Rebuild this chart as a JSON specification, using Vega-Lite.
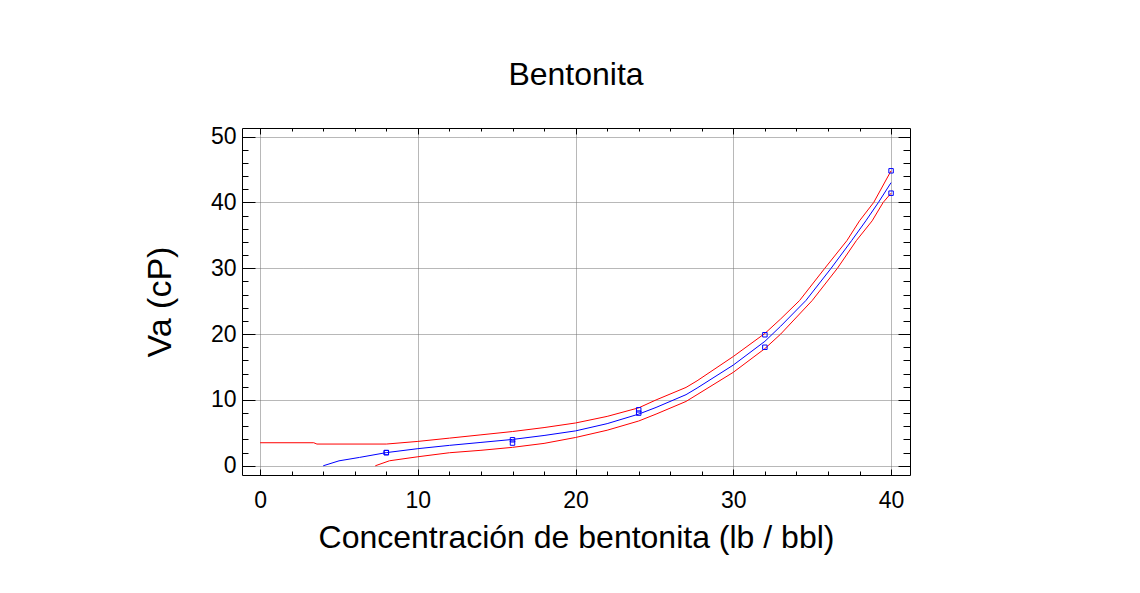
{
  "$schema": "https://vega.github.io/schema/vega-lite/v6.json",
  "autosize": "none",
  "width": 668,
  "height": 347,
  "padding": {"left": 242, "top": 128, "right": 230, "bottom": 118},
  "background": "white",
  "title": {"text": "Bentonita", "fontSize": 32, "font": "Liberation Sans", "fontWeight": "normal", "color": "black", "anchor": "middle", "frame": "group", "offset": 34},
  "config": {"view": {"stroke": null}, "font": "Liberation Sans"},
  "datasets": {
    "curves": [
      {"s": "upper", "x": 0, "y": 3.5}, {"s": "upper", "x": 3.4, "y": 3.5}, {"s": "upper", "x": 3.6, "y": 3.3}, {"s": "upper", "x": 8.0, "y": 3.3},
      {"s": "upper", "x": 10.0, "y": 3.7}, {"s": "upper", "x": 12.0, "y": 4.2}, {"s": "upper", "x": 14.0, "y": 4.7}, {"s": "upper", "x": 16.0, "y": 5.2},
      {"s": "upper", "x": 18.0, "y": 5.8}, {"s": "upper", "x": 20.0, "y": 6.5}, {"s": "upper", "x": 22.0, "y": 7.5}, {"s": "upper", "x": 24.0, "y": 8.8},
      {"s": "upper", "x": 25.1, "y": 10.0}, {"s": "upper", "x": 27.0, "y": 11.9}, {"s": "upper", "x": 27.7, "y": 12.9}, {"s": "upper", "x": 30.0, "y": 16.6},
      {"s": "upper", "x": 32.0, "y": 20.1}, {"s": "upper", "x": 33.0, "y": 22.3}, {"s": "upper", "x": 34.2, "y": 25.1}, {"s": "upper", "x": 35.8, "y": 30.0},
      {"s": "upper", "x": 37.2, "y": 34.2}, {"s": "upper", "x": 38.0, "y": 37.2}, {"s": "upper", "x": 38.9, "y": 40.0}, {"s": "upper", "x": 40.0, "y": 44.8},
      {"s": "lower", "x": 7.3, "y": 0.0}, {"s": "lower", "x": 8.2, "y": 0.76}, {"s": "lower", "x": 10.0, "y": 1.37}, {"s": "lower", "x": 12.0, "y": 1.98},
      {"s": "lower", "x": 14.0, "y": 2.35}, {"s": "lower", "x": 16.0, "y": 2.8}, {"s": "lower", "x": 18.0, "y": 3.4}, {"s": "lower", "x": 20.0, "y": 4.3},
      {"s": "lower", "x": 22.0, "y": 5.4}, {"s": "lower", "x": 24.0, "y": 6.8}, {"s": "lower", "x": 25.1, "y": 7.85}, {"s": "lower", "x": 27.0, "y": 9.77},
      {"s": "lower", "x": 27.7, "y": 10.8}, {"s": "lower", "x": 30.0, "y": 14.2}, {"s": "lower", "x": 32.0, "y": 17.8}, {"s": "lower", "x": 33.0, "y": 20.0},
      {"s": "lower", "x": 35.0, "y": 25.1}, {"s": "lower", "x": 36.6, "y": 30.0}, {"s": "lower", "x": 37.8, "y": 34.2}, {"s": "lower", "x": 38.8, "y": 37.2},
      {"s": "lower", "x": 39.5, "y": 40.0}, {"s": "lower", "x": 40.0, "y": 41.4},
      {"s": "fit", "x": 4.0, "y": 0.0}, {"s": "fit", "x": 5.0, "y": 0.75}, {"s": "fit", "x": 6.3, "y": 1.27}, {"s": "fit", "x": 8.0, "y": 2.0},
      {"s": "fit", "x": 10.0, "y": 2.6}, {"s": "fit", "x": 12.0, "y": 3.1}, {"s": "fit", "x": 14.0, "y": 3.55}, {"s": "fit", "x": 16.0, "y": 4.0},
      {"s": "fit", "x": 18.0, "y": 4.6}, {"s": "fit", "x": 20.0, "y": 5.3}, {"s": "fit", "x": 22.0, "y": 6.4}, {"s": "fit", "x": 24.0, "y": 7.85},
      {"s": "fit", "x": 25.1, "y": 8.86}, {"s": "fit", "x": 27.0, "y": 10.8}, {"s": "fit", "x": 27.7, "y": 11.8}, {"s": "fit", "x": 30.0, "y": 15.3},
      {"s": "fit", "x": 32.0, "y": 18.9}, {"s": "fit", "x": 33.0, "y": 21.2}, {"s": "fit", "x": 34.6, "y": 25.1}, {"s": "fit", "x": 36.2, "y": 30.0},
      {"s": "fit", "x": 37.5, "y": 34.2}, {"s": "fit", "x": 38.4, "y": 37.2}, {"s": "fit", "x": 39.2, "y": 40.0}, {"s": "fit", "x": 40.0, "y": 43.0}
    ],
    "points": [
      {"x": 8, "y": 2.0}, {"x": 8, "y": 2.0},
      {"x": 16, "y": 3.95}, {"x": 16, "y": 3.45},
      {"x": 24, "y": 8.5}, {"x": 24, "y": 8.0},
      {"x": 32, "y": 19.9}, {"x": 32, "y": 18.0},
      {"x": 40, "y": 44.8}, {"x": 40, "y": 41.4}
    ]
  },
  "resolve": {"axis": {"x": "independent", "y": "independent"}},
  "layer": [
    {
      "data": {"name": "curves"},
      "mark": {"type": "line", "strokeWidth": 1, "clip": true},
      "encoding": {
        "x": {
          "field": "x", "type": "quantitative",
          "scale": {"domain": [-1.15, 41.2], "nice": false, "zero": false},
          "axis": {
            "orient": "bottom",
            "values": [0, 2, 4, 6, 8, 10, 12, 14, 16, 18, 20, 22, 24, 26, 28, 30, 32, 34, 36, 38, 40],
            "title": "Concentración de bentonita (lb / bbl)",
            "titleFontSize": 32, "titleFont": "Liberation Sans", "titleFontWeight": "normal", "titleColor": "black", "titlePadding": 8,
            "labelFontSize": 23, "labelFont": "Liberation Sans", "labelColor": "black", "labelPadding": 20,
            "labelExpr": "datum.value % 10 === 0 ? datum.label : ''", "labelFlush": false, "labelOverlap": false,
            "tickSize": {"condition": {"test": "datum.value % 10 === 0", "value": -6}, "value": -4},
            "tickColor": "black", "tickWidth": 1, "domainColor": "black", "domainWidth": 1,
            "grid": true, "gridColor": "#707070", "gridDash": [1, 1], "gridWidth": 1,
            "gridOpacity": {"condition": {"test": "datum.value % 10 === 0", "value": 1}, "value": 0},
            "zindex": 0
          }
        },
        "y": {
          "field": "y", "type": "quantitative",
          "scale": {"domain": [-1.4, 51.3], "nice": false, "zero": false},
          "axis": {
            "orient": "left",
            "values": [0, 2, 4, 6, 8, 10, 12, 14, 16, 18, 20, 22, 24, 26, 28, 30, 32, 34, 36, 38, 40, 42, 44, 46, 48, 50],
            "title": "Va (cP)",
            "titleFontSize": 34, "titleFont": "Liberation Sans", "titleFontWeight": "normal", "titleColor": "black", "titlePadding": 33,
            "labelFontSize": 23, "labelFont": "Liberation Sans", "labelColor": "black", "labelPadding": 19,
            "labelExpr": "datum.value % 10 === 0 ? datum.label : ''", "labelFlush": false, "labelOverlap": false,
            "tickSize": {"condition": {"test": "datum.value % 10 === 0", "value": -13}, "value": -6},
            "tickColor": "black", "tickWidth": 1, "domainColor": "black", "domainWidth": 1,
            "grid": true, "gridColor": "#707070", "gridDash": [1, 1], "gridWidth": 1,
            "gridOpacity": {"condition": {"test": "datum.value % 10 === 0", "value": 1}, "value": 0},
            "zindex": 0
          }
        },
        "color": {
          "field": "s", "type": "nominal",
          "scale": {"domain": ["upper", "lower", "fit"], "range": ["#ff0000", "#ff0000", "#0000ff"]},
          "legend": null
        }
      }
    },
    {
      "data": {"name": "points"},
      "mark": {"type": "point", "shape": "square", "filled": false, "size": 20, "strokeWidth": 1, "color": "#0000ff", "opacity": 1},
      "encoding": {
        "x": {
          "field": "x", "type": "quantitative",
          "axis": {
            "orient": "top",
            "values": [0, 2, 4, 6, 8, 10, 12, 14, 16, 18, 20, 22, 24, 26, 28, 30, 32, 34, 36, 38, 40],
            "title": null, "labels": false, "grid": false,
            "tickSize": {"condition": {"test": "datum.value % 10 === 0", "value": -6}, "value": -3},
            "tickColor": "black", "tickWidth": 1, "domainColor": "black", "domainWidth": 1
          }
        },
        "y": {
          "field": "y", "type": "quantitative",
          "axis": {
            "orient": "right",
            "values": [0, 2, 4, 6, 8, 10, 12, 14, 16, 18, 20, 22, 24, 26, 28, 30, 32, 34, 36, 38, 40, 42, 44, 46, 48, 50],
            "title": null, "labels": false, "grid": false,
            "tickSize": {"condition": {"test": "datum.value % 10 === 0", "value": -12}, "value": -7},
            "tickColor": "black", "tickWidth": 1, "domainColor": "black", "domainWidth": 1
          }
        }
      }
    }
  ]
}
